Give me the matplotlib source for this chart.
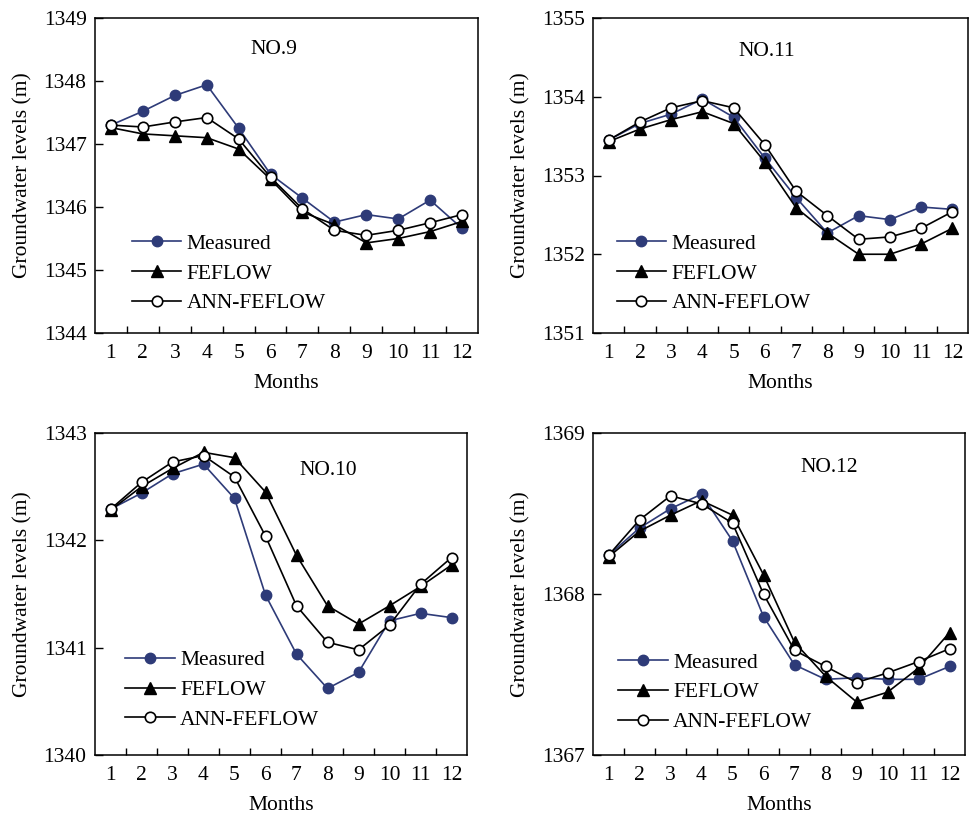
import matplotlib
matplotlib.use("Agg")
import matplotlib.pyplot as plt
from matplotlib.ticker import FixedLocator

plt.rcParams['font.family'] = ['Liberation Serif', 'DejaVu Serif']

months = list(range(1, 13))
month_labels = [str(m) for m in months]

# NO.9
no9_measured = [1347.30, 1347.52, 1347.77, 1347.94, 1347.25, 1346.52, 1346.14, 1345.76, 1345.88, 1345.81, 1346.11, 1345.66]
no9_feflow   = [1347.26, 1347.16, 1347.13, 1347.10, 1346.92, 1346.44, 1345.92, 1345.72, 1345.43, 1345.50, 1345.61, 1345.77]
no9_ann      = [1347.30, 1347.27, 1347.35, 1347.42, 1347.08, 1346.47, 1345.97, 1345.63, 1345.55, 1345.63, 1345.75, 1345.88]
no9_yticks = [1344, 1345, 1346, 1347, 1348, 1349]

# NO.11
no11_measured = [1353.45, 1353.66, 1353.78, 1353.97, 1353.74, 1353.22, 1352.72, 1352.27, 1352.49, 1352.44, 1352.60, 1352.57]
no11_feflow   = [1353.43, 1353.59, 1353.71, 1353.81, 1353.66, 1353.17, 1352.59, 1352.27, 1352.00, 1352.00, 1352.13, 1352.33]
no11_ann      = [1353.45, 1353.68, 1353.86, 1353.95, 1353.86, 1353.39, 1352.80, 1352.49, 1352.19, 1352.22, 1352.33, 1352.54]
no11_yticks = [1351, 1352, 1353, 1354, 1355]

# NO.10
no10_measured = [1342.29, 1342.44, 1342.62, 1342.71, 1342.39, 1341.49, 1340.94, 1340.62, 1340.77, 1341.25, 1341.32, 1341.28]
no10_feflow   = [1342.28, 1342.50, 1342.67, 1342.82, 1342.77, 1342.45, 1341.86, 1341.39, 1341.22, 1341.39, 1341.57, 1341.77]
no10_ann      = [1342.29, 1342.54, 1342.73, 1342.79, 1342.59, 1342.04, 1341.39, 1341.05, 1340.98, 1341.21, 1341.59, 1341.84]
no10_yticks = [1340, 1341, 1342, 1343]

# NO.12
no12_measured = [1368.24, 1368.41, 1368.53, 1368.62, 1368.33, 1367.86, 1367.56, 1367.47, 1367.48, 1367.47, 1367.47, 1367.55]
no12_feflow   = [1368.23, 1368.39, 1368.49, 1368.58, 1368.49, 1368.12, 1367.70, 1367.49, 1367.33, 1367.39, 1367.54, 1367.76]
no12_ann      = [1368.24, 1368.46, 1368.61, 1368.56, 1368.44, 1368.00, 1367.65, 1367.55, 1367.45, 1367.51, 1367.58, 1367.66]
no12_yticks = [1367, 1368, 1369]

series_names = ["Measured", "FEFLOW", "ANN-FEFLOW"]
navy = "#2E3B78"

fig = plt.figure(figsize=(9.73, 8.14), dpi=100)
W, H = 973, 814

def px_axes(l, t, r, b):
    return fig.add_axes([l / W, 1 - b / H, (r - l) / W, (b - t) / H])

panels = [
    ("NO.9", (95, 18, 478, 333), no9_measured, no9_feflow, no9_ann, no9_yticks, (0.467, 0.900), (0.074, 0.035)),
    ("NO.11", (593, 18, 968, 333), no11_measured, no11_feflow, no11_ann, no11_yticks, (0.464, 0.893), (0.040, 0.035)),
    ("NO.10", (95, 433, 467, 755), no10_measured, no10_feflow, no10_ann, no10_yticks, (0.626, 0.885), (0.058, 0.051)),
    ("NO.12", (593, 433, 965, 755), no12_measured, no12_feflow, no12_ann, no12_yticks, (0.634, 0.894), (0.045, 0.044)),
]

for title, box, meas, fef, ann, yt, tpos, lpos in panels:
    ax = px_axes(*box)
    ax.plot(months, meas, color=navy, lw=1.2, marker='o', markersize=7.5,
            markerfacecolor=navy, markeredgecolor=navy, label=series_names[0], zorder=3)
    ax.plot(months, fef, color='black', lw=1.2, marker='^', markersize=8.5,
            markerfacecolor='black', markeredgecolor='black', label=series_names[1], zorder=4)
    ax.plot(months, ann, color='black', lw=1.2, marker='o', markersize=7.5,
            markerfacecolor='white', markeredgecolor='black', markeredgewidth=1.2,
            label=series_names[2], zorder=5)
    ax.set_xlim(0.5, 12.5)
    ax.set_ylim(yt[0], yt[-1])
    ax.set_yticks(yt)
    ax.set_yticklabels([str(v) for v in yt])
    ax.set_xticks(months)
    ax.set_xticklabels(month_labels)
    ax.xaxis.set_minor_locator(FixedLocator([m + 0.5 for m in months[:-1]]))
    ax.tick_params(axis='x', which='major', length=0, pad=8, labelsize=15.5)
    ax.tick_params(axis='x', which='minor', length=5, direction='in', width=1)
    ax.tick_params(axis='y', which='major', length=6, direction='in', width=1, labelsize=15.5, pad=6)
    for s in ax.spines.values():
        s.set_linewidth(1.1)
    ax.set_xlabel("Months", fontsize=15.5, labelpad=8)
    ax.set_ylabel("Groundwater levels (m)", fontsize=15.5, labelpad=8)
    ax.text(tpos[0], tpos[1], title, transform=ax.transAxes, ha='center', va='center', fontsize=15.5)
    ax.legend(loc='lower left', bbox_to_anchor=lpos, frameon=False, fontsize=15.5,
              handlelength=2.3, handletextpad=0.25, labelspacing=0.45, borderaxespad=0.0,
              borderpad=0.4)

fig.savefig("out.png", dpi=100)
